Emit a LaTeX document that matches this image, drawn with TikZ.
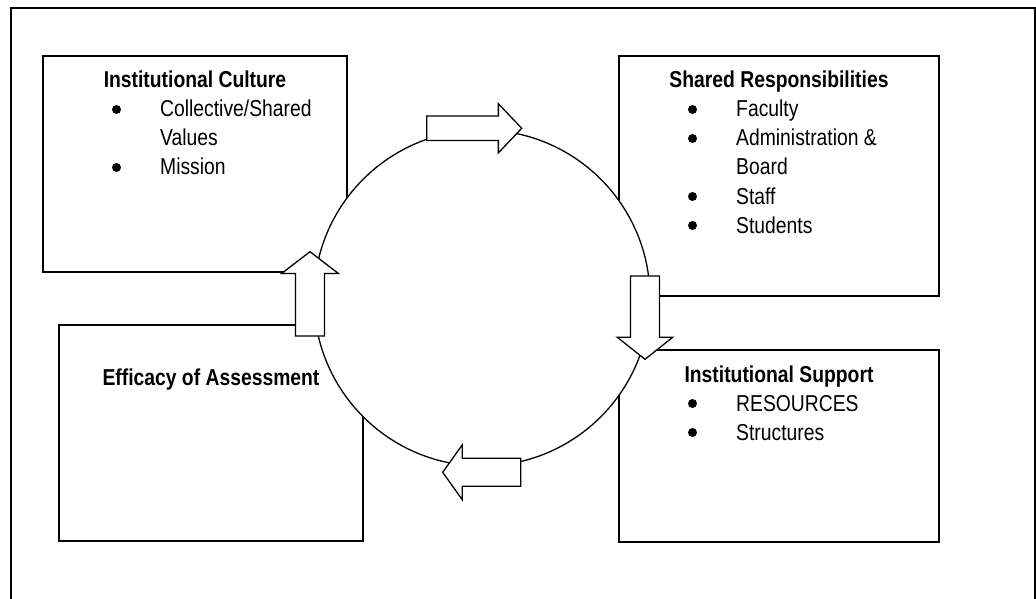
\documentclass[tikz,border=0pt]{standalone}
\usepackage{fontspec}
\setmainfont{Liberation Sans}[FakeStretch=0.84]
\usepackage{tikz}
\usetikzlibrary{shapes.geometric}
\usetikzlibrary{arrows,shapes}
\usetikzlibrary{calc,positioning}

\begin{document}
\begin{tikzpicture}[x=1pt, y=-1pt, font=\fontsize{23}{29}\selectfont,
    box/.style={draw, line width=2pt, inner sep=0pt, outer sep=0pt},
    title/.style={font=\fontsize{23}{29}\selectfont\bfseries, anchor=base, inner sep=0pt},
    item/.style={anchor=base west, inner sep=0pt},
    turn/.style={single arrow, draw, fill=white, line width=1.3pt, inner xsep=0pt, outer sep=0pt, anchor=tip}]

    \useasboundingbox (0,0) rectangle (1036,599);
    \draw[line width=2pt] (11,599) -- (11,8.5) -- (1034.5,8.5) -- (1034.5,599);

    \node[box, minimum width=304, minimum height=216] (C) at (195,164) {};
    \node[box, minimum width=320, minimum height=240] (R) at (779,176) {};
    \node[box, minimum width=304, minimum height=216] (E) at (211,433) {};
    \node[box, minimum width=320, minimum height=192] (S) at (779,446) {};

    \node[circle, draw, fill=white, line width=1.3pt, minimum size=336, inner sep=0pt] (L) at (482,298) {};

    \foreach \n/\x/\y/\r/\l/\s/\e/\t in {AR/521.7/128.3/0/95/11.65/12.3/93,
                                         AD/645/359.3/-90/83.3/13.85/13.3/103,
                                         AL/442.7/472.3/180/78/13.35/13.3/109,
                                         AU/310/251.7/90/84.3/13.8/13.9/105}{
        \node[turn, rotate=\r, minimum height=\l, inner ysep=\s, single arrow head extend=\e, single arrow tip angle=\t] (\n) at (\x,\y) {};
    }

    \node[title] (CT) at ($(C.north)+(0,32)$) {Institutional Culture};
    \node[title] (RT) at ($(R.north)+(0,32)$) {Shared Responsibilities};
    \node[title] (ST) at ($(S.north)+(0,32)$) {Institutional Support};
    \node[title] (ET) at ($(E.north)+(0,60)$) {Efficacy of Assessment};

    \foreach \k/\t [count=\i from 0] in {1/{Collective/Shared}, 0/Values, 1/Mission}{
        \node[item] (C\i) at ($(C.north west)+(117,61+29*\i)$) {\t};
        \ifnum\k=1 \fill ($(C\i.base west)+(-43.5,-7.5)$) circle (4.5); \fi
    }
    \foreach \k/\t [count=\i from 0] in {1/Faculty, 1/Administration \&, 0/Board, 1/Staff, 1/Students}{
        \node[item] (R\i) at ($(R.north west)+(117,61+29*\i)$) {\t};
        \ifnum\k=1 \fill ($(R\i.base west)+(-43.5,-7.5)$) circle (4.5); \fi
    }
    \foreach \k/\t [count=\i from 0] in {1/RESOURCES, 1/Structures}{
        \node[item] (S\i) at ($(S.north west)+(117,61+29*\i)$) {\t};
        \ifnum\k=1 \fill ($(S\i.base west)+(-43.5,-7.5)$) circle (4.5); \fi
    }

\end{tikzpicture}
\end{document}
